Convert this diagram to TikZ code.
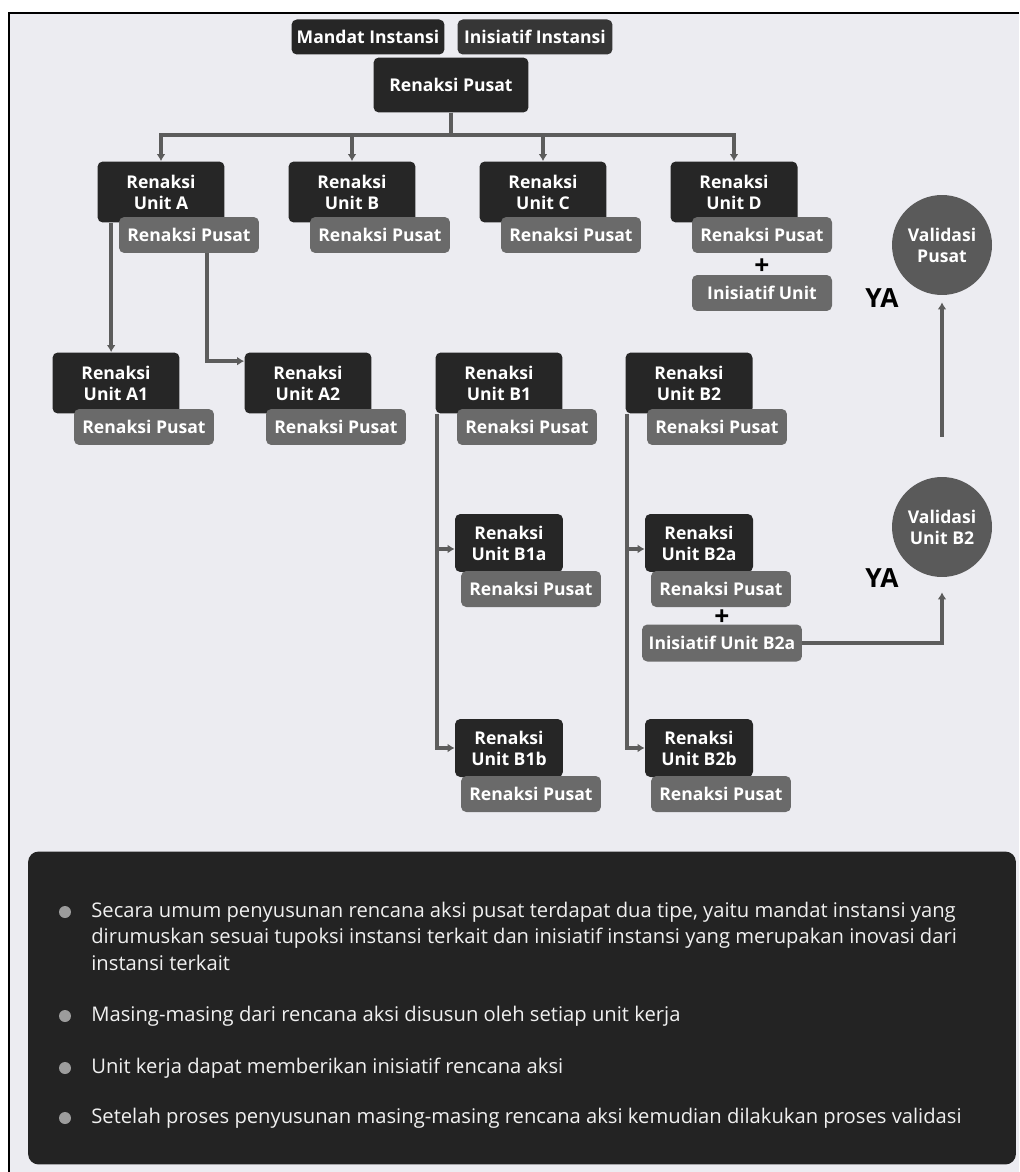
\documentclass[tikz,border=0pt]{standalone}
\usepackage{fontspec}
\setmainfont{Open Sans}
\usepackage{xcolor}
\usetikzlibrary{arrows.meta,positioning,calc}

\definecolor{unitgray}{HTML}{262626}
\definecolor{instgray}{HTML}{363636}
\definecolor{pusatgray}{HTML}{6A6A6A}
\definecolor{validgray}{HTML}{5A5A5A}
\definecolor{linkgray}{HTML}{5C5C5C}
\definecolor{paper}{HTML}{ECECF1}
\definecolor{notebg}{HTML}{232323}
\definecolor{dotgray}{HTML}{9C9C9C}

\begin{document}
\begin{tikzpicture}[x=0.02cm, y=-0.02cm,
  unit/.style={rounded corners=3pt, fill=unitgray, text=white, minimum width=2.54cm, minimum height=1.22cm, inner sep=0pt, align=center, font=\bfseries\fontsize{10}{12}\selectfont},
  subunit/.style={unit, minimum width=2.16cm, minimum height=1.16cm},
  pusat/.style={rounded corners=3pt, fill=pusatgray, text=white, minimum width=2.8cm, minimum height=0.72cm, inner sep=0pt, font=\bfseries\fontsize{10}{12}\selectfont},
  valid/.style={circle, fill=validgray, text=white, minimum size=2cm, inner sep=0pt, align=center, font=\bfseries\fontsize{10}{12}\selectfont},
  link/.style={draw=linkgray, line width=2.2pt, -{Latex[length=4pt,width=5pt]}},
  plus/.style={inner sep=0pt, font=\bfseries\fontsize{15}{15}\selectfont},
  ya/.style={inner sep=0pt, font=\bfseries\fontsize{15}{15}\selectfont},
  note/.style={text=white!94!black, align=left, anchor=base west, inner sep=0pt, font=\fontsize{11.5}{15}\selectfont}
]
\useasboundingbox (0,0) rectangle (1019,1172);

% paper and frame
\fill[paper] (9,13) rectangle (1019,1172);
\draw[line width=0.8pt] (9,1172) -- (9,13) -- (1019,13);

% top row
\node[unit, minimum width=3.06cm, minimum height=0.7cm] (mandat) at (368,37) {Mandat Instansi};
\node[unit, fill=instgray, minimum width=3.1cm, minimum height=0.7cm] (inisiatif) at (535,37) {Inisiatif Instansi};
\node[unit, minimum width=3.1cm, minimum height=1.1cm] (pc) at (451,85) {Renaksi Pusat};

% units A..D
\foreach \n/\x/\t in {ua/161/A,ub/352/B,uc/543/C,ud/734/D} {
  \node[unit] (\n) at (\x,192) {Renaksi\\Unit \t};
  \node[pusat] (\n p) at ($(\n)+(28,43)$) {Renaksi Pusat};
  \draw[link] (pc.south) -- ++(0,22.5) -| (\n.north);
}
\node[plus] (plusd) at (762,267) {+};
\node[pusat] (iud) at (762,293) {Inisiatif Unit};

% second row
\foreach \n/\x/\t in {a1/116/A1,a2/308/A2,b1/499/B1,b2/689/B2} {
  \node[unit] (\n) at (\x,383) {Renaksi\\Unit \t};
  \node[pusat] (\n p) at ($(\n)+(28,44)$) {Renaksi Pusat};
}

% third and fourth rows
\foreach \n/\x/\y/\t in {b1a/509/543/B1a,b2a/699/543/B2a,b1b/509/748/B1b,b2b/699/748/B2b} {
  \node[subunit] (\n) at (\x,\y) {Renaksi\\Unit \t};
  \node[pusat] (\n p) at ($(\n)+(22,46)$) {Renaksi Pusat};
}
\node[plus] (plusb) at (722,618) {+};
\node[pusat, minimum width=3.2cm, minimum height=0.74cm] (iub) at (722,643) {Inisiatif Unit B2a};

% validasi
\node[valid] (vp) at (942,245) {Validasi\\Pusat};
\node[valid] (vb) at (942,527) {Validasi\\Unit B2};
\node[ya] (ya1) at (882,298) {YA};
\node[ya] (ya2) at (882,578) {YA};

% arrows
\draw[link] ($(ua.south west)+(14,0)$) coordinate (sa) -- (sa |- a1.north);
\draw[link] ($(uap.south)+(18,0)$) |- ($(a2.north west)+(0,9)$);
\draw[link] ($(b1.south west)+(2,0)$) |- ($(b1a.west)+(0,6)$);
\draw[link] ($(b1.south west)+(2,0)$) |- (b1b.west);
\draw[link] ($(b2.south west)+(2,0)$) |- ($(b2a.west)+(0,6)$);
\draw[link] ($(b2.south west)+(2,0)$) |- (b2b.west);
\draw[link, shorten >=0.3cm] (iub.east) -| (vb.south);
\draw[link, shorten <=0.8cm, shorten >=0.14cm] (vb.north) -- (vp.south);

% notes
\node[rounded corners=6pt, fill=notebg, minimum width=19.76cm, minimum height=6.26cm] (notes) at (522,1008) {};
\foreach \y in {912,1016,1068,1118}
  \fill[dotgray] (65,\y) circle (0.12cm);
\node[note] (t1) at (91,970) {Secara umum penyusunan rencana aksi pusat terdapat dua tipe, yaitu mandat instansi yang\\dirumuskan sesuai tupoksi instansi terkait dan inisiatif instansi yang merupakan inovasi dari\\instansi terkait};
\node[note] (t2) at (91,1021) {Masing-masing dari rencana aksi disusun oleh setiap unit kerja};
\node[note] (t3) at (91,1073) {Unit kerja dapat memberikan inisiatif rencana aksi};
\node[note] (t4) at (91,1123) {Setelah proses penyusunan masing-masing rencana aksi kemudian dilakukan proses validasi};
\end{tikzpicture}
\end{document}
